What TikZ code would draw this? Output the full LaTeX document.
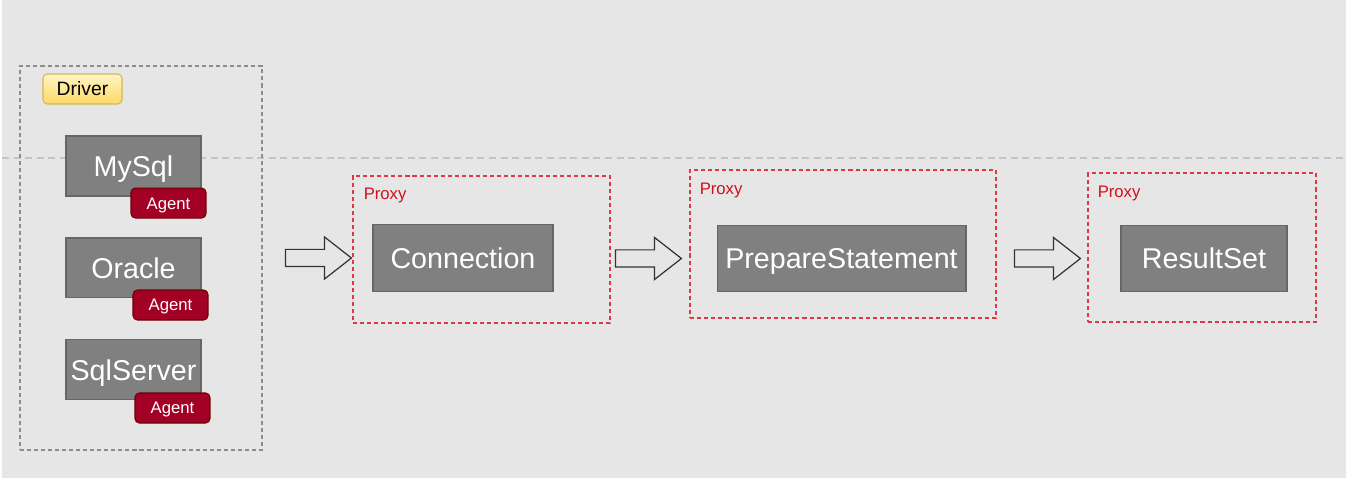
\documentclass[tikz,border=0pt]{standalone}
\usepackage{fontspec}
\setmainfont{Liberation Sans}
\usetikzlibrary{shapes,calc,positioning}
\definecolor{bgcol}{HTML}{E6E6E6}
\definecolor{guidecol}{HTML}{C4C4C4}
\definecolor{boxfill}{HTML}{808080}
\definecolor{boxline}{HTML}{666666}
\definecolor{agentfill}{HTML}{A20025}
\definecolor{agentline}{HTML}{6F0000}
\definecolor{drvtop}{HTML}{FFF4C3}
\definecolor{drvbot}{HTML}{FFD966}
\definecolor{drvline}{HTML}{D6B656}
\definecolor{drvframe}{HTML}{8C8C8C}
\definecolor{proxyred}{HTML}{DD3A45}
\definecolor{proxytext}{HTML}{D0101A}
\definecolor{arrowline}{HTML}{333333}

\begin{document}
\begin{tikzpicture}[x=0.02cm,y=-0.02cm,node distance=2.04cm]
  \tikzstyle{dbbox}=[rectangle,draw=boxline,fill=boxfill,line width=0.6pt,text=white,
                     minimum width=2.7cm,minimum height=1.2cm,inner sep=0pt,
                     text height=11.7pt,text depth=0pt,font=\fontsize{16.3}{18}\selectfont]
  \tikzstyle{objbox}=[dbbox,minimum height=1.33cm]
  \tikzstyle{agent}=[rectangle,rounded corners=2.5pt,draw=agentline,fill=agentfill,
                     line width=0.6pt,text=white,minimum width=1.5cm,minimum height=0.6cm,
                     inner sep=0pt,text height=6.8pt,text depth=0pt,
                     font=\fontsize{9.5}{11}\selectfont,anchor=north east]
  \tikzstyle{drvlabel}=[rectangle,rounded corners=2.5pt,draw=drvline,top color=drvtop,
                     bottom color=drvbot,line width=0.6pt,minimum width=1.58cm,
                     minimum height=0.6cm,inner sep=0pt,text height=7.9pt,text depth=0pt,
                     font=\fontsize{11}{13}\selectfont]
  \tikzstyle{group}=[rectangle,line width=0.7pt,dash pattern=on 2.3pt off 1.7pt,inner sep=0pt]
  \tikzstyle{proxy}=[group,draw=proxyred]
  \tikzstyle{proxy label}=[anchor=north west,text=proxytext,inner sep=0pt,
                     text height=6.8pt,text depth=0pt,font=\fontsize{9.5}{11}\selectfont]
  \tikzstyle{blockarrow}=[single arrow,draw=arrowline,line width=0.7pt,
                     minimum height=1.32cm,single arrow head extend=0.25cm,
                     single arrow tip angle=76,inner xsep=0pt,inner ysep=0.16cm,
                     text height=0pt,text depth=0pt,anchor=tip]
  \useasboundingbox (0,0) rectangle (1350,486);
  \fill[bgcol] (2,0) rectangle (1346,478);
  \draw[guidecol,line width=0.6pt,dash pattern=on 4pt off 2.6pt] (2,158) -- (1346,158);
  % drivers
  \node[group,draw=drvframe,minimum width=4.84cm,minimum height=7.68cm] (drv) at (141,258) {};
  \node[drvlabel] (drvname) at (82.5,89) {Driver};
  \node[dbbox] (mysql) at (133.5,166) {MySql};
  \node[dbbox] (oracle) [below of=mysql] {Oracle};
  \node[dbbox] (sqlserver) [below of=oracle] {SqlServer};
  \node[agent] (mysqlagent) at ($(mysql.south east)+(5,-9)$) {Agent};
  \node[agent] (oracleagent) at ($(oracle.south east)+(7,-9)$) {Agent};
  \node[agent] (sqlserveragent) at ($(sqlserver.south east)+(9,-8)$) {Agent};
  % proxies
  \node[proxy,minimum width=5.14cm,minimum height=2.94cm] (px1) at (481.5,249.5) {};
  \node[proxy,minimum width=6.12cm,minimum height=2.96cm] (px2) at (843,244) {};
  \node[proxy,minimum width=4.56cm,minimum height=2.98cm] (px3) at (1202,247.5) {};
  \node[proxy label] at ($(px1.north west)+(11,12)$) {Proxy};
  \node[proxy label] at ($(px2.north west)+(10,13)$) {Proxy};
  \node[proxy label] at ($(px3.north west)+(10,13)$) {Proxy};
  \node[objbox,minimum width=3.6cm] (conn) at (463,258) {Connection};
  \node[objbox,minimum width=4.98cm] (prep) at (841.5,258.5) {PrepareStatement};
  \node[objbox,minimum width=3.32cm] (rset) at (1204,258.5) {ResultSet};
  % flow
  \node[blockarrow] (arr1) at (px1.west |- conn) {};
  \node[blockarrow] (arr2) at ($(px2.west |- prep)+(-7,0)$) {};
  \node[blockarrow] (arr3) at ($(px3.west |- rset)+(-6,0)$) {};
\end{tikzpicture}
\end{document}
